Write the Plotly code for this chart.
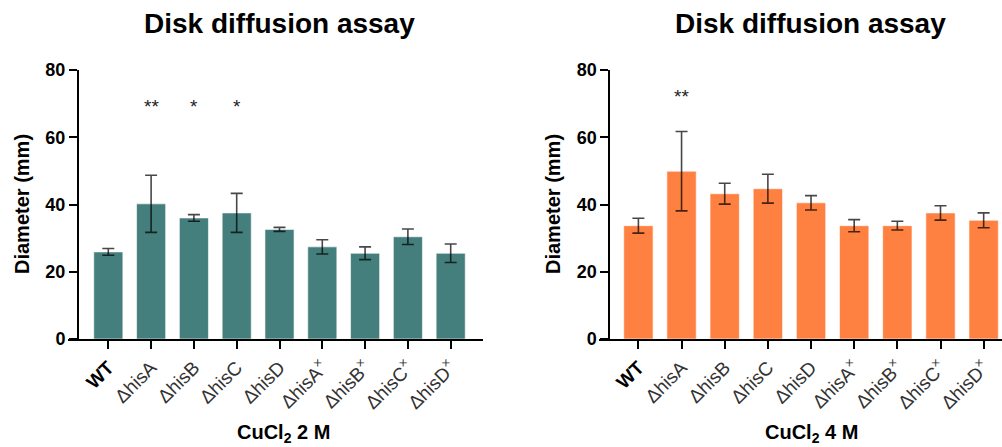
import plotly.graph_objects as go

# ---- data ----
strains = ["WT", "ΔhisA", "ΔhisB", "ΔhisC", "ΔhisD", "ΔhisA×", "ΔhisB×", "ΔhisC×", "ΔhisD×"]
tick_labels = ["<span style='color:black'><b>WT</b></span>",
               "ΔhisA", "ΔhisB", "ΔhisC", "ΔhisD",
               "ΔhisA<sup>×</sup>", "ΔhisB<sup>×</sup>",
               "ΔhisC<sup>×</sup>", "ΔhisD<sup>×</sup>"]

mean_2M = [25.9, 40.2, 36.0, 37.5, 32.6, 27.4, 25.5, 30.4, 25.5]
sd_2M = [1.0, 8.5, 1.0, 5.8, 0.6, 2.1, 1.9, 2.3, 2.75]
sig_2M = ["", "**", "*", "*", "", "", "", "", ""]

mean_4M = [33.7, 49.9, 43.2, 44.7, 40.5, 33.7, 33.7, 37.5, 35.3]
sd_4M = [2.2, 11.8, 3.1, 4.3, 2.15, 1.8, 1.3, 2.15, 2.2]
sig_4M = ["", "**", "", "", "", "", "", "", ""]

yticks = [0, 20, 40, 60, 80]

TEAL = "#447F7D"
ORANGE = "#FF8142"
FONT = "Liberation Sans"

W, H = 1002, 447
xpos = list(range(len(strains)))

fig = go.Figure()

def add_bars(means, sds, color, xa, ya):
    fig.add_trace(go.Bar(
        x=xpos, y=means, width=0.68,
        marker=dict(color=color, line=dict(color="rgba(255,255,255,0.6)", width=1)),
        error_y=dict(type="data", array=sds, visible=True,
                     color="rgba(0,0,0,0.72)", thickness=1.6, width=6),
        xaxis=xa, yaxis=ya, showlegend=False, hovertext=strains,
    ))

add_bars(mean_2M, sd_2M, TEAL, "x", "y")
add_bars(mean_4M, sd_4M, ORANGE, "x2", "y2")

axis_common = dict(showline=True, linecolor="black", linewidth=2,
                   ticks="outside", ticklen=8, tickwidth=2, tickcolor="black",
                   showgrid=False, zeroline=False, automargin=False)

xcommon = dict(axis_common, tickmode="array", tickvals=xpos, ticktext=tick_labels,
               tickangle=-45, tickfont=dict(family=FONT, size=19, color="#333"))
ycommon = dict(axis_common, range=[0, 80], tickmode="array", tickvals=yticks,
               tickfont=dict(family=FONT, size=18, color="black", weight=700),
               domain=[108 / H, 377 / H], anchor="free")

fig.update_layout(
    width=W, height=H,
    margin=dict(l=0, r=0, t=0, b=0, autoexpand=False),
    paper_bgcolor="white", plot_bgcolor="white",
    bargap=0.3,
    xaxis=dict(xcommon, domain=[68 / W, 483 / W], range=[-0.942, 8.755], anchor="y"),
    yaxis=dict(ycommon, position=78 / W),
    xaxis2=dict(xcommon, domain=[599 / W, 1.0], range=[-0.913, 8.425], anchor="y2"),
    yaxis2=dict(ycommon, position=609.3 / W),
)

ann = []
# titles
for cx in (279, 810):
    ann.append(dict(text="<b>Disk diffusion assay</b>", x=cx / W, y=1 - 23 / H,
                    xref="paper", yref="paper", showarrow=False,
                    xanchor="center", yanchor="middle",
                    font=dict(family=FONT, size=28, color="black")))
# y titles
for cx in (22, 553):
    ann.append(dict(text="<b>Diameter (mm)</b>", x=cx / W, y=1 - 204 / H,
                    xref="paper", yref="paper", showarrow=False, textangle=-90,
                    xanchor="center", yanchor="middle",
                    font=dict(family=FONT, size=20, color="black")))
# x titles
for cx, t in ((283, "<b>CuCl<sub>2</sub> 2 M</b>"), (811, "<b>CuCl<sub>2</sub> 4 M</b>")):
    ann.append(dict(text=t, x=cx / W, y=1 - 433 / H,
                    xref="paper", yref="paper", showarrow=False,
                    xanchor="center", yanchor="middle",
                    font=dict(family=FONT, size=20, color="black")))
# significance stars
for i, s in enumerate(sig_2M):
    if s:
        ann.append(dict(text=s, x=xpos[i], y=69, xref="x", yref="y", showarrow=False,
                        xanchor="center", yanchor="middle",
                        font=dict(family=FONT, size=19, color="#222")))
for i, s in enumerate(sig_4M):
    if s:
        ann.append(dict(text=s, x=xpos[i], y=72, xref="x2", yref="y2", showarrow=False,
                        xanchor="center", yanchor="middle",
                        font=dict(family=FONT, size=19, color="#222")))
fig.update_layout(annotations=ann)

fig.write_html("out.html")
